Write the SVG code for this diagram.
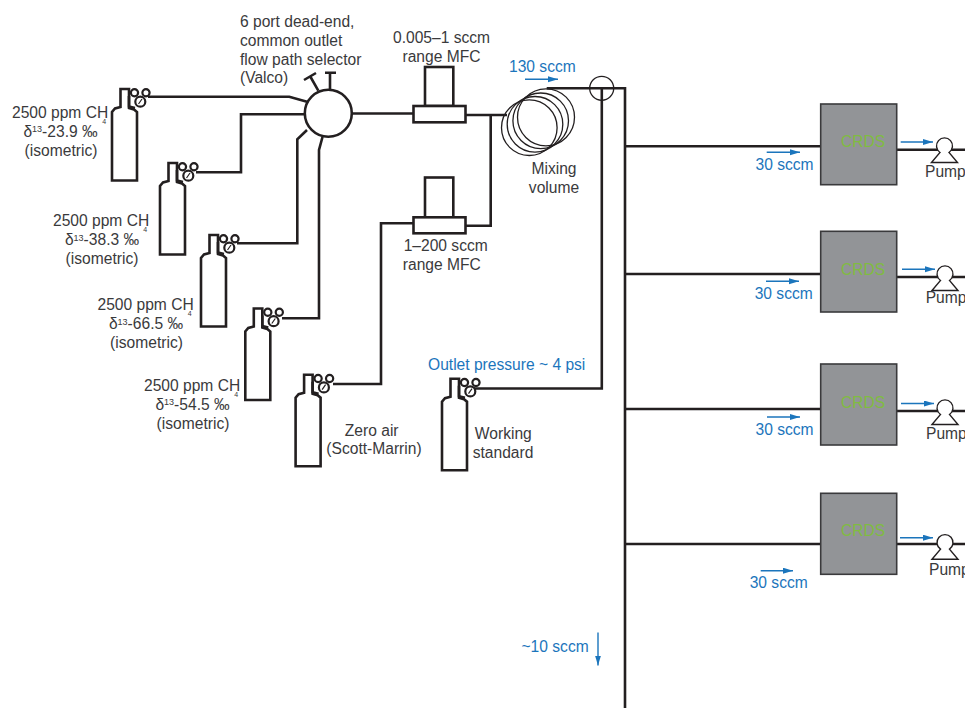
<svg xmlns="http://www.w3.org/2000/svg" width="965" height="708" viewBox="0 0 965 708">
<style>
text{font-family:"Liberation Sans",Arial,sans-serif;font-size:15.6px;fill:#3a3a3c}
.m{text-anchor:middle}
.b{fill:#1b75bc}
.c{fill:#80bc41;font-size:15.6px;text-anchor:middle}
.s{font-size:7px}
.l{fill:none;stroke:#231f20;stroke-width:2.6}
.t{fill:none;stroke:#231f20;stroke-width:1.3}
.n{fill:#fff;stroke:#231f20;stroke-width:2.6}
.g{fill:#fff;stroke:#231f20;stroke-width:2.2}
.a{fill:none;stroke:#1b75bc;stroke-width:1.4;marker-end:url(#ah)}
.crds{fill:#929497;stroke:#3a3a3c;stroke-width:1.6}
</style>
<defs>
<marker id="ah" markerUnits="userSpaceOnUse" markerWidth="11" markerHeight="7" refX="10" refY="3" orient="auto"><path d="M0 0L10 3L0 6Z" fill="#1b75bc"/></marker>
<g id="cyl">
<path class="n" d="M137 180V112L134 109.500L129 108V89H120.500V107L115 108.500L112 112V180.500H137Z"/>
<path class="l" d="M129 96V106.500L135 108"/>
<circle class="g" cx="134.500" cy="92.800" r="3.600"/>
<circle class="g" cx="146" cy="92.800" r="3.600"/>
<circle class="g" cx="140.300" cy="101.700" r="5"/>
<path d="M138.500 104L142 99" stroke="#231f20" stroke-width="1.200"/>
</g>
<g id="pump">
<path d="M-13 16.500L-4.500 6.500A8 8 0 1 1 4.500 6.500L13 16.500Z" fill="#fff" stroke="#231f20" stroke-width="1.400"/>
</g>
</defs>
<g id="connectors">
<path class="l" d="M148 96.700H289.300L307 101.700"/>
<path class="l" d="M196 172.300H241V114.300H305"/>
<path class="l" d="M237 243.300H297.300V139.300L307 130"/>
<path class="l" d="M282 318.300H319V150L322.500 137"/>
<path class="l" d="M333 384H381V223.300H414"/>
<path class="l" d="M352 113.500H414"/>
<path class="l" d="M465 115H507"/>
<path class="l" d="M490.700 115V225.700H465"/>
<path class="l" d="M318.300 90.700L310 76M304 80L316 73"/>
<path class="l" d="M330 90V72.700M325 72.700H336"/>
<path class="l" d="M546.700 88.300H625V708"/>
<path class="l" d="M601.800 88.300V388.500H472"/>
<path class="l" d="M625 146.300H821"/>
<path class="l" d="M625 274H821"/>
<path class="l" d="M625 409H821"/>
<path class="l" d="M625 544H821"/>
<path class="l" d="M897 149.700H965"/>
<path class="l" d="M897 277H965"/>
<path class="l" d="M897 411H965"/>
<path class="l" d="M897 544H965"/>
<path class="a" d="M525 79.300H558"/>
<path class="a" d="M766.700 152.300H800"/>
<path class="a" d="M766 281.300H799"/>
<path class="a" d="M767 417H800"/>
<path class="a" d="M760.700 570.700H793"/>
<path class="a" d="M900.700 142H933"/>
<path class="a" d="M902 269.300H935"/>
<path class="a" d="M901 403.500H934"/>
<path class="a" d="M900 537.700H933"/>
<path class="a" d="M598 632.500V665.500"/>
</g>
<g id="cylinder1"><use href="#cyl"/>
<text x="12" y="118">2500 ppm CH<tspan class="s" dx="-6" dy="6">4</tspan></text>
<text class="m" x="60.500" y="136.700">δ<tspan font-size="9" dy="-4.500">13</tspan><tspan dy="4.500">-23.9 ‰</tspan></text>
<text class="m" x="61" y="155.700">(isometric)</text></g>
<g id="cylinder2"><use href="#cyl" x="48" y="74"/>
<text x="53" y="226">2500 ppm CH<tspan class="s" dx="-6" dy="6">4</tspan></text>
<text class="m" x="102" y="245">δ<tspan font-size="9" dy="-4.500">13</tspan><tspan dy="4.500">-38.3 ‰</tspan></text>
<text class="m" x="102" y="264">(isometric)</text></g>
<g id="cylinder3"><use href="#cyl" x="89" y="146"/>
<text x="97.500" y="310">2500 ppm CH<tspan class="s" dx="-6" dy="6">4</tspan></text>
<text class="m" x="146" y="329">δ<tspan font-size="9" dy="-4.500">13</tspan><tspan dy="4.500">-66.5 ‰</tspan></text>
<text class="m" x="146.500" y="348">(isometric)</text></g>
<g id="cylinder4"><use href="#cyl" x="133.300" y="219.500"/>
<text x="144" y="390.700">2500 ppm CH<tspan class="s" dx="-6" dy="6">4</tspan></text>
<text class="m" x="192.500" y="409.700">δ<tspan font-size="9" dy="-4.500">13</tspan><tspan dy="4.500">-54.5 ‰</tspan></text>
<text class="m" x="193" y="428.500">(isometric)</text></g>
<g id="zero-air"><use href="#cyl" x="183.600" y="285.700"/>
<text class="m" x="371.700" y="435.700">Zero air</text>
<text class="m" x="374" y="454.300">(Scott-Marrin)</text></g>
<g id="working-standard"><use href="#cyl" x="330" y="289.700"/>
<text class="m" x="503.300" y="439">Working</text>
<text class="m" x="503" y="457.700">standard</text></g>
<g id="selector">
<circle class="n" cx="328.300" cy="113.300" r="23.500"/>
<text x="240" y="27">6 port dead-end,</text>
<text x="240" y="46">common outlet</text>
<text x="240" y="65">flow path selector</text>
<text x="240" y="83">(Valco)</text>
</g>
<g id="mfc1">
<rect class="n" x="425" y="67" width="28.300" height="39"/>
<rect class="n" x="413.500" y="106" width="52" height="16.300"/>
<text class="m" x="441.500" y="43">0.005–1 sccm</text>
<text class="m" x="441.500" y="61.700">range MFC</text>
</g>
<g id="mfc2">
<rect class="n" x="425" y="177.500" width="28.300" height="39.800"/>
<rect class="n" x="413.500" y="217.300" width="52" height="16"/>
<text class="m" x="445.700" y="250.700">1–200 sccm</text>
<text class="m" x="441.800" y="270">range MFC</text>
</g>
<g id="mixing-volume">
<circle class="t" cx="529.300" cy="127.700" r="27.800"/>
<circle class="t" cx="535" cy="124.300" r="27.800"/>
<circle class="t" cx="540.700" cy="120.800" r="27.800"/>
<circle class="t" cx="546" cy="117.300" r="28.500"/>
<text class="m" x="554" y="174">Mixing</text>
<text class="m" x="554" y="192.700">volume</text>
</g>
<circle id="tee" class="t" cx="601.700" cy="88.300" r="12"/>
<g id="crds1"><rect class="crds" x="820.700" y="104" width="76" height="80.700"/><text class="c" x="863" y="147">CRDS</text></g>
<g id="crds2"><rect class="crds" x="820.700" y="231.300" width="76" height="80.700"/><text class="c" x="863" y="274.500">CRDS</text></g>
<g id="crds3"><rect class="crds" x="820.700" y="364" width="76" height="81"/><text class="c" x="863" y="407.500">CRDS</text></g>
<g id="crds4"><rect class="crds" x="820.700" y="493.300" width="76" height="81"/><text class="c" x="863" y="535.500">CRDS</text></g>
<g id="pump1"><use href="#pump" x="944.500" y="146"/><text x="925" y="177">Pump</text></g>
<g id="pump2"><use href="#pump" x="945" y="274"/><text x="925.700" y="303">Pump</text></g>
<g id="pump3"><use href="#pump" x="945" y="408"/><text x="926" y="439">Pump</text></g>
<g id="pump4"><use href="#pump" x="945" y="542.700"/><text x="929" y="575">Pump</text></g>
<g id="flow-labels">
<text class="b" x="509" y="72">130 sccm</text>
<text class="b" x="755.500" y="169.500">30 sccm</text>
<text class="b" x="754.700" y="298.700">30 sccm</text>
<text class="b" x="755.500" y="435">30 sccm</text>
<text class="b" x="749.700" y="588.300">30 sccm</text>
<text class="b" x="428" y="370">Outlet pressure ~ 4 psi</text>
<text class="b" x="521.500" y="652">~10 sccm</text>
</g>
</svg>
